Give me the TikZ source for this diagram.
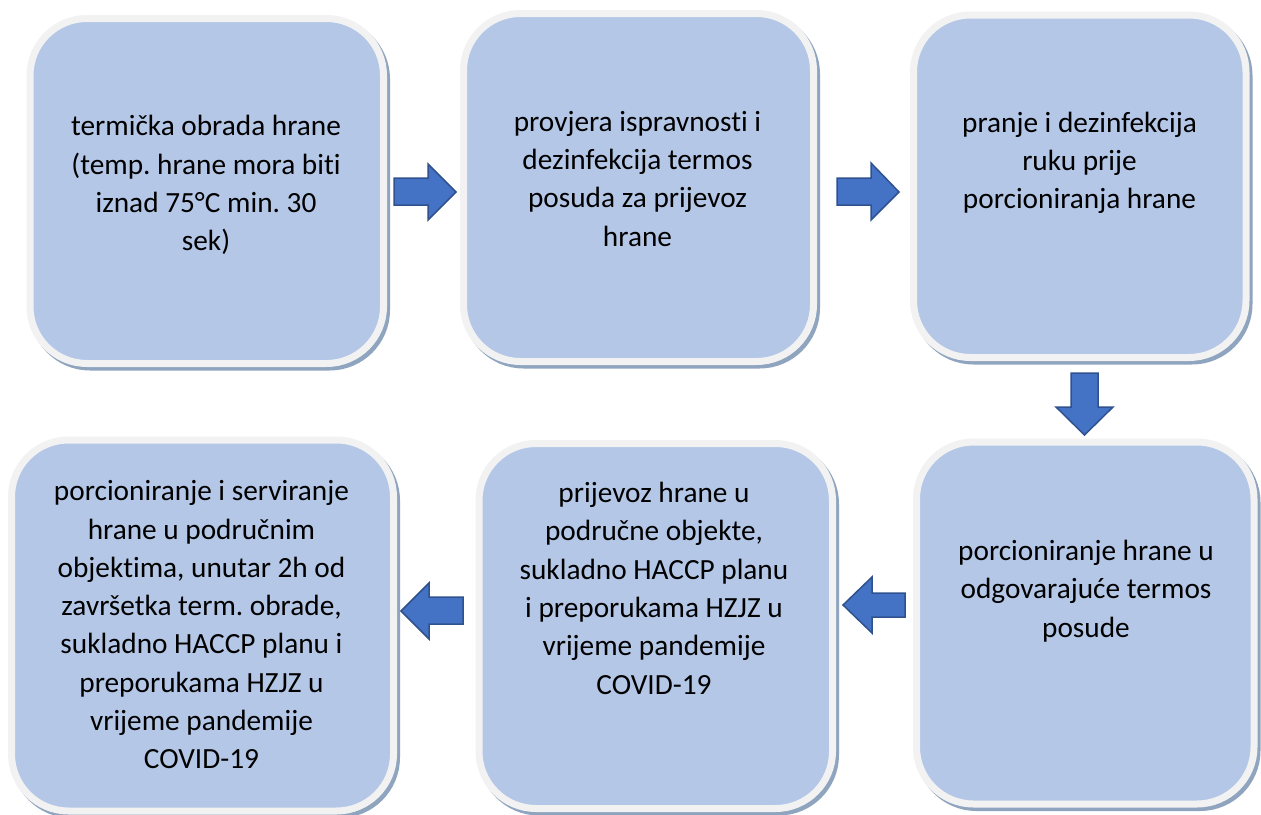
\documentclass[tikz,border=0pt]{standalone}
\usepackage{fontspec}
\setmainfont[Ligatures=NoCommon]{Carlito}
\frenchspacing
\usetikzlibrary{shadows}
\definecolor{boxblue}{HTML}{B4C7E7}
\definecolor{boxrim}{HTML}{F2F2F2}
\definecolor{boxshadow}{HTML}{8FA4BF}
\definecolor{arrowfill}{HTML}{4472C4}
\definecolor{arrowline}{HTML}{2F528F}
\tikzset{
  stepbox/.style={rectangle, rounded corners=57pt, fill=boxblue, draw=boxrim,
    line width=7pt, inner sep=0pt,
    general shadow={fill=boxshadow, draw=boxshadow, line width=7pt,
      shadow xshift=3pt, shadow yshift=-3.5pt}},
  steptext/.style={align=center, inner sep=0pt, text=black,
    font=\fontsize{29.3}{38.3}\selectfont,
    execute at begin node=\strut, execute at end node=\strut},
  blockarrow/.style={fill=arrowfill, draw=arrowline, line width=1.5pt, line join=miter}
}
\begin{document}
\begin{tikzpicture}[x=1pt,y=-1pt]
\useasboundingbox[fill=white] (0,0) rectangle (1261,814);
% boxes
\node[stepbox, minimum width=353.5pt, minimum height=345pt] (b1) at (206.75,191) {};
\node[stepbox, minimum width=350pt, minimum height=348pt] (b2) at (638.5,187.5) {};
\node[stepbox, minimum width=332.5pt, minimum height=342.5pt] (b3) at (1079.75,186.25) {};
\node[stepbox, minimum width=337.5pt, minimum height=362pt] (b4) at (1085.25,623) {};
\node[stepbox, minimum width=353.5pt, minimum height=365pt] (b5) at (655.75,626) {};
\node[stepbox, minimum width=382pt, minimum height=371pt] (b6) at (202.5,625.5) {};
% texts
\node[steptext] (t1) at (206,189) {termička obrada hrane\\(temp. hrane mora biti\\iznad 75°C min. 30\\sek)};
\node[steptext] (t2) at (637.5,184.5) {provjera ispravnosti i\\dezinfekcija termos\\posuda za prijevoz\\hrane};
\node[steptext] (t3) at (1079.5,166) {pranje i dezinfekcija\\ruku prije\\porcioniranja hrane};
\node[steptext] (t4) at (1086,594.5) {porcioniranje hrane u\\odgovarajuće termos\\posude};
\node[steptext] (t5) at (654,594) {prijevoz hrane u\\područne objekte,\\sukladno HACCP planu\\i preporukama HZJZ u\\vrijeme pandemije\\COVID-19};
\node[steptext] (t6) at (201.5,630.5) {porcioniranje i serviranje\\hrane u područnim\\objektima, unutar 2h od\\završetka term. obrade,\\sukladno HACCP planu i\\preporukama HZJZ u\\vrijeme pandemije\\COVID-19};
% block arrows
\draw[blockarrow] (394,178) -- (428,178) -- (428,164) -- (456,192) -- (428,220) -- (428,205) -- (394,205) -- cycle;
\draw[blockarrow] (837,178) -- (871,178) -- (871,163) -- (899,192) -- (871,220) -- (871,205) -- (837,205) -- cycle;
\draw[blockarrow] (1071,373) -- (1098,373) -- (1098,407) -- (1113,407) -- (1084.5,435) -- (1056,407) -- (1071,407) -- cycle;
\draw[blockarrow] (905,593) -- (905,617) -- (872,617) -- (872,633) -- (843,605) -- (872,577) -- (872,593) -- cycle;
\draw[blockarrow] (463,597) -- (463,624) -- (429,624) -- (429,639) -- (401,611) -- (429,583) -- (429,597) -- cycle;
\end{tikzpicture}
\end{document}
